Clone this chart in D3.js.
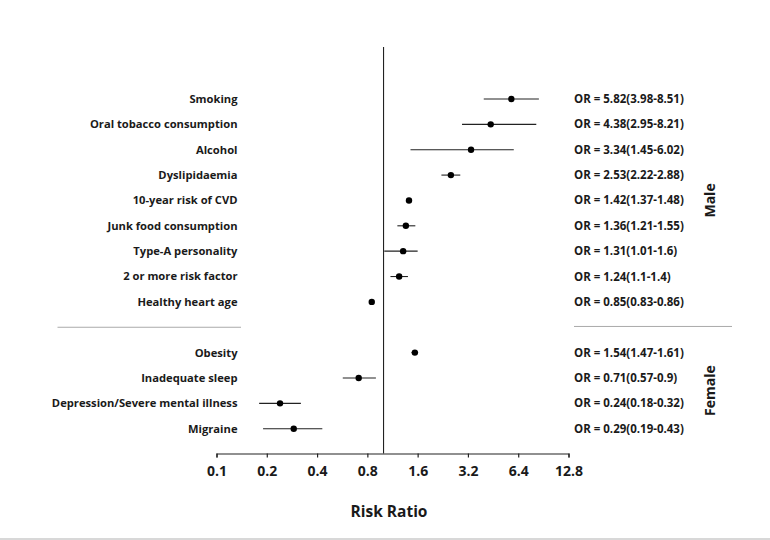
<!DOCTYPE html>
<html>
<head>
<meta charset="utf-8">
<script src="https://cdn.jsdelivr.net/npm/d3@7"></script>
<style>
html,body{margin:0;padding:0;background:#fff;}
svg{display:block;}
text{font-family:"Open Sans","Lato",sans-serif;font-weight:bold;fill:#1a1a1a;}
</style>
</head>
<body>
<svg id="chart" width="770" height="540"></svg>
<script>
// Data
const maleLabels = ["Smoking","Oral tobacco consumption","Alcohol","Dyslipidaemia","10-year risk of CVD","Junk food consumption","Type-A personality","2 or more risk factor","Healthy heart age"];
const maleOR   = [5.82,4.38,3.34,2.53,1.42,1.36,1.31,1.24,0.85];
const maleLow  = [3.98,2.95,1.45,2.22,1.37,1.21,1.01,1.1,0.83];
const maleHigh = [8.51,8.21,6.02,2.88,1.48,1.55,1.6,1.4,0.86];
const femaleLabels = ["Obesity","Inadequate sleep","Depression/Severe mental illness","Migraine"];
const femaleOR   = [1.54,0.71,0.24,0.29];
const femaleLow  = [1.47,0.57,0.18,0.19];
const femaleHigh = [1.61,0.9,0.32,0.43];
const tickValues = [0.1,0.2,0.4,0.8,1.6,3.2,6.4,12.8];
const groupNames = ["Male","Female"];
const axisTitle = "Risk Ratio";

const rows = [];
maleLabels.forEach((l,i)=>rows.push({key:"m"+i,label:l,or:maleOR[i],lo:maleLow[i],hi:maleHigh[i],g:0}));
const sepKey = "sep";
femaleLabels.forEach((l,i)=>rows.push({key:"f"+i,label:l,or:femaleOR[i],lo:femaleLow[i],hi:femaleHigh[i],g:1}));
const yDomain = rows.slice(0,maleLabels.length).map(d=>d.key).concat([sepKey]).concat(rows.slice(maleLabels.length).map(d=>d.key));

const svg = d3.select("#chart");
const x = d3.scaleLog().base(2).domain([0.1,12.8]).range([216.5,568.5]);
const y = d3.scalePoint().domain(yDomain).range([99,428.7]);
const axisY = 453.5;

// bottom border line
svg.append("line").attr("x1",0).attr("x2",770).attr("y1",539).attr("y2",539)
  .attr("stroke","#d8d8d8").attr("stroke-width",2);

// reference line at 1
svg.append("line").attr("x1",x(1)).attr("x2",x(1)).attr("y1",47).attr("y2",axisY)
  .attr("stroke","#222").attr("stroke-width",1.1);

// separators
svg.append("line").attr("x1",57.5).attr("x2",241).attr("y1",y(sepKey)).attr("y2",y(sepKey))
  .attr("stroke","#aaa").attr("stroke-width",1);
svg.append("line").attr("x1",574).attr("x2",732).attr("y1",y(sepKey)-0.8).attr("y2",y(sepKey)-0.8)
  .attr("stroke","#aaa").attr("stroke-width",1);

// axis
const axis = d3.axisBottom(x).tickValues(tickValues).tickFormat(d=>String(d)).tickSizeOuter(0).tickSize(4).tickPadding(9);
const ag = svg.append("g").attr("transform",`translate(0,${axisY})`).call(axis);
ag.select(".domain").attr("stroke","#222").attr("stroke-width",1.2);
ag.selectAll(".tick line").attr("stroke","#222").attr("stroke-width",1.2);
ag.selectAll(".tick text").attr("font-size",14).attr("font-family","'Open Sans',sans-serif").attr("font-weight","bold").attr("fill","#1a1a1a");

// axis title
svg.append("text").attr("x",389).attr("y",517).attr("text-anchor","middle").attr("font-size",15.5).text(axisTitle);

// CI lines
svg.selectAll(".ci").data(rows).enter().append("line")
  .attr("x1",d=>x(d.lo)).attr("x2",d=>x(d.hi))
  .attr("y1",d=>y(d.key)).attr("y2",d=>y(d.key))
  .attr("stroke","#222").attr("stroke-width",1.1);
// points
svg.selectAll(".pt").data(rows).enter().append("circle")
  .attr("cx",d=>x(d.or)).attr("cy",d=>y(d.key)).attr("r",3.2).attr("fill","#000");

// left labels
svg.selectAll(".lab").data(rows).enter().append("text")
  .attr("x",237.5).attr("y",d=>y(d.key)).attr("dy","0.35em").attr("text-anchor","end")
  .attr("font-size",11.2).text(d=>d.label);

// right OR labels
svg.selectAll(".orlab").data(rows).enter().append("text")
  .attr("x",574).attr("y",d=>y(d.key)).attr("dy","0.35em")
  .attr("font-size",11.5).text(d=>`OR = ${d.or}(${d.lo}-${d.hi})`);

// group labels
const gCenters = [ (y("m0")+y("m"+(maleLabels.length-1)))/2 , (y("f0")+y("f"+(femaleLabels.length-1)))/2 ];
groupNames.forEach((g,i)=>{
  svg.append("text").attr("transform",`translate(710,${gCenters[i]}) rotate(-90)`)
    .attr("text-anchor","middle").attr("dy","0.35em").attr("font-size",14).text(g);
});
</script>
</body>
</html>
